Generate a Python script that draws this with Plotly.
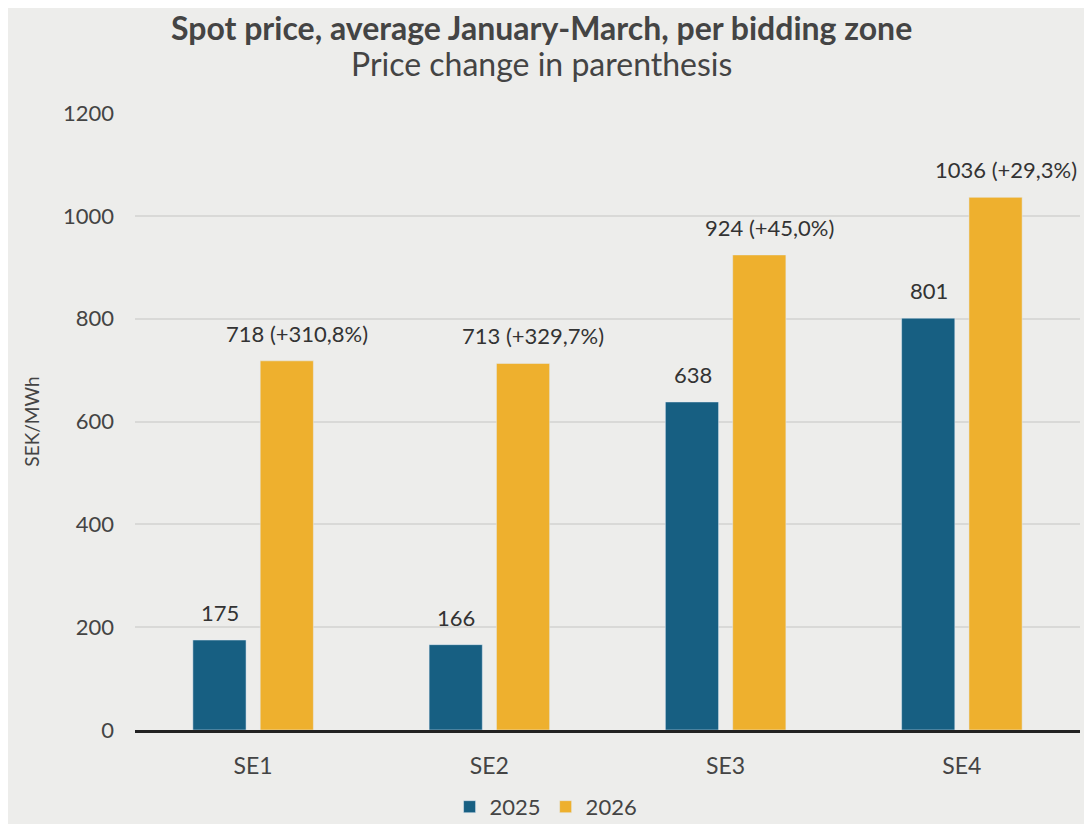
import plotly.graph_objects as go

zones = ["SE1", "SE2", "SE3", "SE4"]
price_2025 = [175, 166, 638, 801]
price_2026 = [718, 713, 924, 1036]
change_2026 = ["+310,8%", "+329,7%", "+45,0%", "+29,3%"]

BLUE = "#175f82"
YELLOW = "#eeb02e"
BG = "#ededeb"
TEXT = "#444444"
FONT = "Lato, Roboto, sans-serif"

fig = go.Figure()
fig.add_trace(go.Bar(name="2025", x=zones, y=price_2025, marker_color=BLUE))
fig.add_trace(go.Bar(name="2026", x=zones, y=price_2026, marker_color=YELLOW))

# value labels above the bars, shifted onto each bar of the group
for zone, v in zip(zones, price_2025):
    fig.add_annotation(x=zone, y=v, text=str(v), showarrow=False, xshift=-33,
                       yanchor="bottom", yshift=12, font=dict(size=22, color="#333333"))
for zone, v, c in zip(zones, price_2026, change_2026):
    fig.add_annotation(x=zone, y=v, text=f"{v} ({c})", showarrow=False, xshift=44,
                       yanchor="bottom", yshift=12, font=dict(size=22, color="#333333"))

fig.add_annotation(text="<b>Spot price, average January-March, per bidding zone</b>",
                   xref="paper", yref="paper", x=0.43, y=1, yshift=106, yanchor="top",
                   showarrow=False, borderpad=0, font=dict(size=32, color=TEXT))
fig.add_annotation(text="Price change in parenthesis",
                   xref="paper", yref="paper", x=0.43, y=1, yshift=70, yanchor="top",
                   showarrow=False, borderpad=0, font=dict(size=32, color=TEXT))

fig.update_layout(
    width=1092, height=824,
    paper_bgcolor=BG, plot_bgcolor=BG,
    font=dict(family=FONT, color=TEXT, size=22),
    barmode="group", bargap=0.43, bargroupgap=0.21,
    margin=dict(l=127, r=20, t=105, b=102, autoexpand=False),
    showlegend=True,
    legend=dict(orientation="h", x=0.435, xanchor="center", yref="container", y=0.005, yanchor="bottom",
                font=dict(size=22), itemwidth=30, traceorder="normal"),
)
fig.update_yaxes(
    range=[0, 1200], dtick=200, showgrid=True, gridcolor="#d9d9d7", gridwidth=1.5,
    zeroline=False, ticks="", ticklabelstandoff=20,
    title=dict(text="SEK/MWh", font=dict(size=19), standoff=18),
    tickfont=dict(size=22),
)
fig.update_xaxes(
    showline=True, linecolor="#222222", linewidth=2.5,
    tickfont=dict(size=23), ticks="", ticklabelstandoff=14,
)

fig.write_html("out.html")
